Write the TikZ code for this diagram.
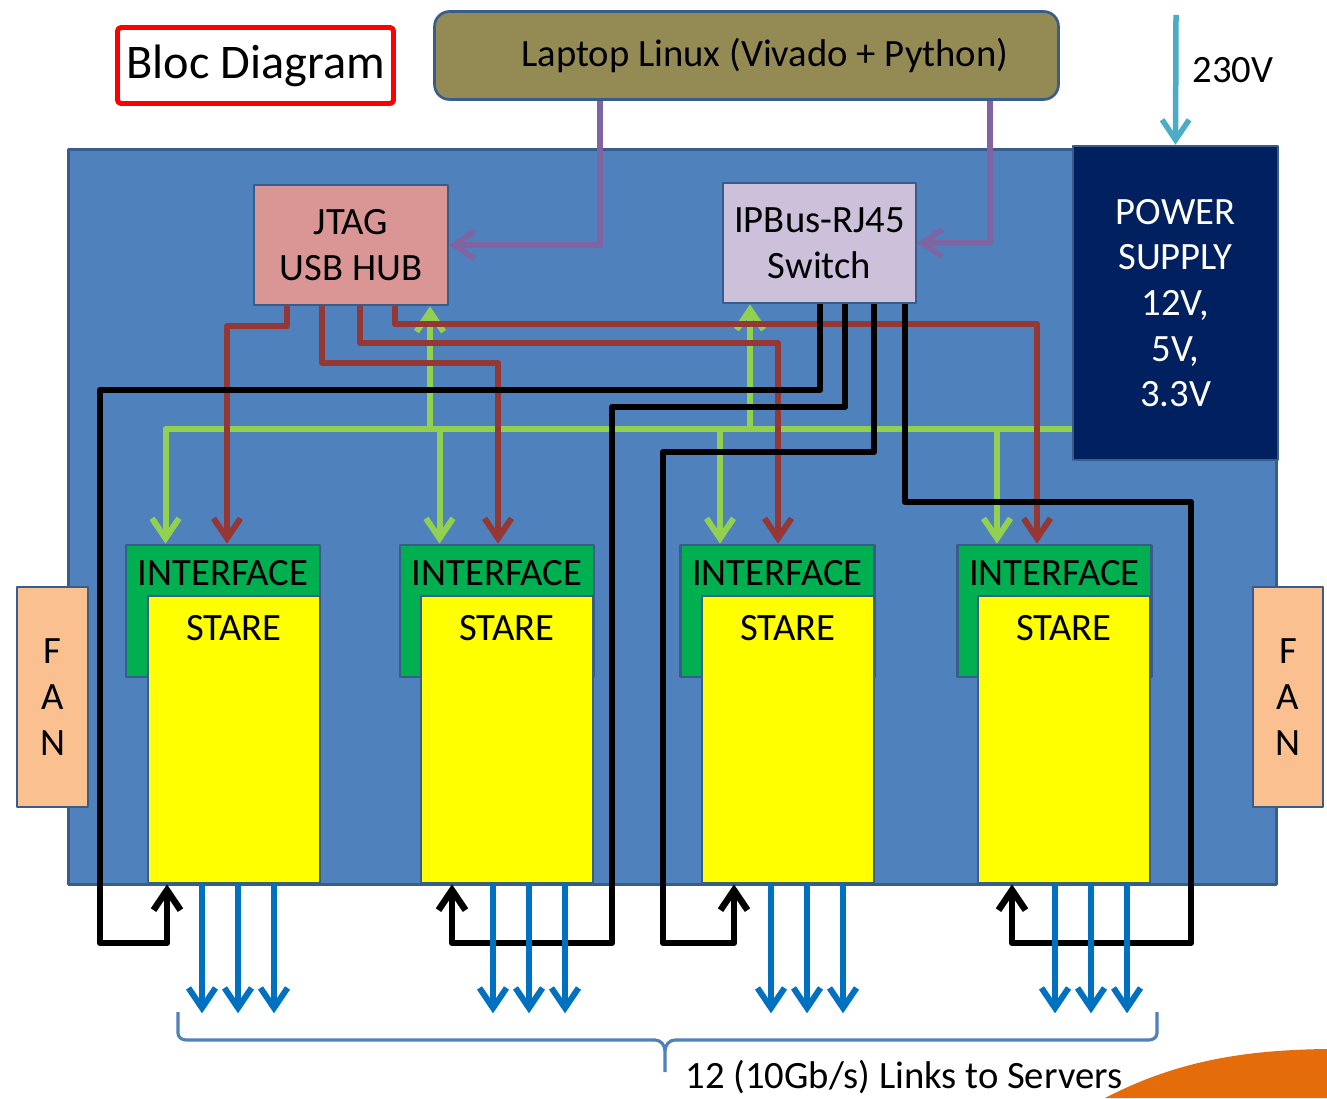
\documentclass[tikz,border=0pt]{standalone}
\usepackage{fontspec}
\setmainfont{Carlito}
\usepackage{tikz}
\usetikzlibrary{arrows.meta}
\definecolor{boardblue}{HTML}{4F81BD}
\definecolor{boardedge}{HTML}{385D8A}
\definecolor{powerblue}{HTML}{002060}
\definecolor{laptopolive}{HTML}{948A54}
\definecolor{hubpink}{HTML}{D99694}
\definecolor{switchlilac}{HTML}{CCC0DA}
\definecolor{fanpeach}{HTML}{FAC090}
\definecolor{ifgreen}{HTML}{00B050}
\definecolor{stareyellow}{HTML}{FFFF00}
\definecolor{jtagred}{HTML}{953735}
\definecolor{powergreen}{HTML}{92D050}
\definecolor{hostpurple}{HTML}{8064A2}
\definecolor{fibreblue}{HTML}{0070C0}
\definecolor{mainscyan}{HTML}{4BACC6}
\definecolor{titlered}{HTML}{FF0000}
\definecolor{slideorange}{HTML}{E46C0A}
\tikzset{
  every picture/.style={font=\fontsize{22}{26}\selectfont, line join=round, >={Straight Barb[length=4mm,width=5.4mm]}},
  box/.style={draw=boardedge, line width=1.5pt, align=center, inner sep=0pt},
  linkhost/.style={draw=hostpurple, line width=0.11cm},
  linkmains/.style={draw=mainscyan, line width=0.11cm},
  linkpower/.style={draw=powergreen, line width=0.12cm},
  linkjtag/.style={draw=jtagred, line width=0.12cm},
  linkdata/.style={draw=black, line width=0.13cm},
  linkfibre/.style={draw=fibreblue, line width=0.12cm},
}

\begin{document}
\begin{tikzpicture}
\useasboundingbox (0,0) rectangle (26.540,21.960);
\fill[white] (0,0) rectangle (26.540,21.960);
\fill[slideorange] (22.100,0) .. controls (23.600,0.780) and (25.000,0.960) .. (26.540,0.980) -- (26.540,0) -- cycle;
% crate and boxes
\node[box, fill=boardblue, minimum width=24.16cm, minimum height=14.70cm] (board) at (13.450,11.620) {};
\node[box, fill=powerblue, text=white, minimum width=4.10cm, minimum height=6.28cm] (power) at (23.510,15.900) {POWER\\SUPPLY\\12V,\\5V,\\3.3V};
\node[box, fill=fanpeach, minimum width=1.42cm, minimum height=4.40cm] (fanL) at (1.050,8.020) {F\\A\\N};
\node[box, fill=fanpeach, minimum width=1.40cm, minimum height=4.40cm] (fanR) at (25.760,8.020) {F\\A\\N};
\node[box, fill=hubpink, minimum width=3.88cm, minimum height=2.40cm] (jtag) at (7.020,17.060) {JTAG\\USB HUB};
\node[box, fill=switchlilac, minimum width=3.86cm, minimum height=2.40cm] (switch) at (16.390,17.100) {IPBus-RJ45\\Switch};
\node[box, fill=laptopolive, rounded corners=0.3cm, minimum width=12.48cm, minimum height=1.76cm] (laptop) at (14.930,20.850) {\hspace*{0.74cm}Laptop Linux (Vivado + Python)};
\node[draw=titlered, line width=2.8pt, fill=white, rounded corners=2pt, minimum width=5.52cm, minimum height=1.52cm, font=\fontsize{27.5}{32}\selectfont] (title) at (5.110,20.650) {Bloc Diagram};
\foreach \i/\gx/\yx in {1/4.460/4.680, 2/9.940/10.140, 3/15.550/15.760, 4/21.090/21.280} {
  \node[box, fill=ifgreen, minimum width=3.88cm, minimum height=2.64cm, label={[anchor=center,yshift=-0.58cm]north:INTERFACE}] (g\i) at (\gx,9.740) {};
  \node[box, fill=stareyellow, minimum width=3.44cm, minimum height=5.74cm, label={[anchor=center,yshift=-0.66cm]north:STARE}] (y\i) at (\yx,7.170) {};
}
% laptop to hub and switch
\draw[linkhost,->] ([xshift=-2.93cm]laptop.south) |- (jtag.east);
\draw[linkhost,->] ([xshift=4.87cm]laptop.south) |- (switch.east);
% mains
\coordinate (mains) at (23.520,21.660);
\draw[linkmains,->] (mains) -- (power.north);
\node (volt) at (24.660,20.560) {230V};
% power bus
\coordinate (bus) at ([yshift=-2.52cm]power.west);
\foreach \i in {1,...,4}
  \draw[linkpower,->] (bus) -| ([xshift=-1.15cm]g\i.north);
\draw[linkpower,->] (bus) -| ([xshift=1.58cm]jtag.south);
\draw[linkpower,->] (bus) -| ([xshift=-1.39cm]switch.south);
% jtag chains
\foreach \sx/\dy/\i/\tx in {-1.28/0.40/1/0.08, -0.58/1.14/2/0.02, 0.18/0.74/3/0.01, 0.88/0.36/4/-0.35}
  \draw[linkjtag,->] ([xshift=\sx cm]jtag.south) -- ++(0,-\dy) -| ([xshift=\tx cm]g\i.north);
% ipbus
\foreach \sx/\ty/\vx/\i/\ex in {0.01/14.160/2.000/1/-1.34, 0.51/13.820/12.240/2/-1.10, 1.09/12.920/13.260/3/-1.08, 1.71/11.920/23.820/4/-1.04}
  \draw[linkdata,->] ([xshift=\sx cm]switch.south) |- (\vx,\ty) -- (\vx,3.100) -| ([xshift=\ex cm]y\i.south);
% links to servers
\foreach \i/\ox in {1/-0.64, 2/-0.28, 3/-0.34, 4/-0.18}
  \foreach \k in {0,1,2}
    \draw[linkfibre,->] ([xshift={(\ox+\k*0.72)*1cm}]y\i.south) -- ++(0,-2.58);
\draw[boardblue, line width=1.8pt] (3.560,1.720) -- (3.560,1.300) to[out=-90,in=180] (3.720,1.160) -- (13.100,1.160) to[out=0,in=90] (13.300,0.940) -- (13.300,0.520);
\draw[boardblue, line width=1.8pt] (13.300,0.940) to[out=90,in=180] (13.500,1.160) -- (22.980,1.160) to[out=0,in=-90] (23.140,1.300) -- (23.140,1.720);
\node (links) at (18.080,0.420) {12 (10Gb/s) Links to Servers};
\end{tikzpicture}
\end{document}
